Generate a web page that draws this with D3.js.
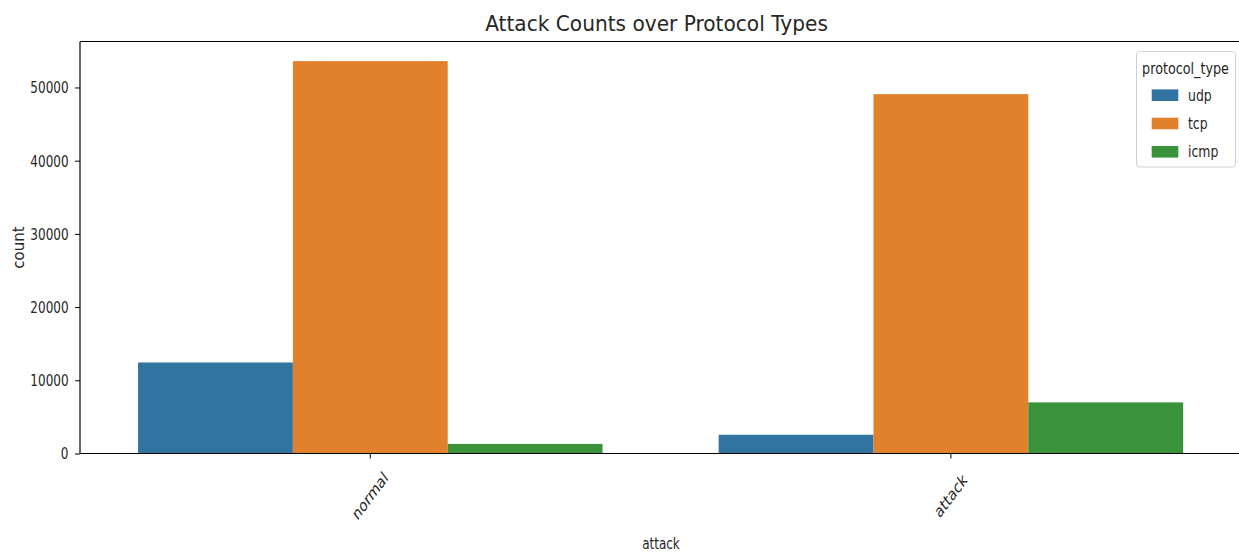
<!DOCTYPE html>
<html>
<head>
<meta charset="utf-8">
<script src="https://cdn.jsdelivr.net/npm/d3@7"></script>
<style>
  html, body { margin: 0; padding: 0; background: #ffffff; }
  svg { display: block; }
  text { font-family: "DejaVu Sans", sans-serif; fill: #262626; }
</style>
</head>
<body>
<svg id="chart" width="1239" height="552"></svg>
<script>
// ---- data ----
const categories = ["normal", "attack"];
const protocols = ["udp", "tcp", "icmp"];
const udpCounts = [12434, 2559];
const tcpCounts = [53600, 49089];
const icmpCounts = [1309, 6982];
const yTickValues = [0, 10000, 20000, 30000, 40000, 50000];
const colors = ["#3274a1", "#e1812c", "#3a923a"];
const chartTitle = "Attack Counts over Protocol Types";
const xTitle = "attack";
const yTitle = "count";
const legendTitle = "protocol_type";

const seriesValues = { udp: udpCounts, tcp: tcpCounts, icmp: icmpCounts };
const rows = [];
categories.forEach((c, i) => protocols.forEach(p => rows.push({ cat: c, proto: p, value: seriesValues[p][i] })));

// ---- layout ----
const W = 1239, H = 552;
const plot = { left: 80, right: 80 + 2 * 580.6, top: 41.5, bottom: 453.5 };
const SX = 0.75; // horizontal text squeeze seen in the reference

const svg = d3.select("#chart");

const x0 = d3.scaleBand().domain(categories).range([plot.left, plot.right]).paddingInner(0.2).paddingOuter(0.1);
const x1 = d3.scaleBand().domain(protocols).range([0, x0.bandwidth()]).padding(0);
const yMax = d3.max(rows, d => d.value) * 1.05;
const y = d3.scaleLinear().domain([0, yMax]).range([plot.bottom, plot.top]);
const color = d3.scaleOrdinal().domain(protocols).range(colors);

function label(g, x, yy, s, o) {
  const t = g.append("text")
    .attr("transform", `translate(${x},${yy}) scale(${o.sx ?? 1},1) rotate(${o.rotate ?? 0})`)
    .attr("font-size", o.size + "px")
    .attr("text-anchor", o.anchor ?? "middle")
    .text(s);
  if (o.baseline) t.attr("dominant-baseline", o.baseline);
  if (o.dy) t.attr("dy", o.dy);
  return t;
}

// ---- bars ----
svg.append("g").selectAll("rect").data(rows).join("rect")
  .attr("x", d => x0(d.cat) + x1(d.proto))
  .attr("width", x1.bandwidth())
  .attr("y", d => y(d.value))
  .attr("height", d => y(0) - y(d.value))
  .attr("fill", d => color(d.proto));

// ---- axes ----
const yAxis = svg.append("g").attr("transform", `translate(${plot.left},0)`)
  .call(d3.axisLeft(y).tickValues(yTickValues).tickSize(5).tickSizeOuter(0).tickFormat(d3.format("d")));
yAxis.select(".domain").remove();
yAxis.selectAll(".tick line").attr("stroke", "#000").attr("stroke-width", 1);
yAxis.selectAll(".tick text")
  .attr("font-family", "DejaVu Sans")
  .attr("font-size", "16px")
  .attr("fill", "#262626")
  .attr("x", -11.5 / SX)
  .attr("dy", "0.34em")
  .attr("transform", `scale(${SX},1)`);

const xAxis = svg.append("g").attr("transform", `translate(0,${plot.bottom})`)
  .call(d3.axisBottom(x0).tickSize(5).tickSizeOuter(0).tickFormat(""));
xAxis.select(".domain").remove();
xAxis.selectAll(".tick line").attr("stroke", "#000").attr("stroke-width", 1);
xAxis.selectAll(".tick text").remove();

const xl = svg.append("g");
categories.forEach(c => {
  label(xl, x0(c) + x0.bandwidth() / 2, 496, c, { size: 17, sx: SX, rotate: -45, baseline: "central" });
});

// spines (right spine lies just outside the picture)
const sp = svg.append("g").attr("stroke", "#000").attr("stroke-width", 1.2).attr("fill", "none");
sp.append("line").attr("x1", plot.left).attr("x2", plot.left).attr("y1", plot.top).attr("y2", plot.bottom);
sp.append("line").attr("x1", plot.left).attr("x2", plot.right).attr("y1", plot.bottom).attr("y2", plot.bottom);
sp.append("line").attr("x1", plot.left).attr("x2", plot.right).attr("y1", plot.top).attr("y2", plot.top);
sp.append("line").attr("x1", plot.right).attr("x2", plot.right).attr("y1", plot.top).attr("y2", plot.bottom);

// ---- titles ----
const tg = svg.append("g");
label(tg, 656.5, 31, chartTitle, { size: 22, sx: 0.915 });
label(tg, 661, 549, xTitle, { size: 16, sx: SX });
label(tg, 24, (plot.top + plot.bottom) / 2, yTitle, { size: 15, rotate: -90 });

// ---- legend ----
const lg = svg.append("g");
lg.append("rect").attr("x", 1136.5).attr("y", 51.5).attr("width", 99).attr("height", 115.5)
  .attr("rx", 3).attr("fill", "#ffffff").attr("fill-opacity", 0.8).attr("stroke", "#d0d0d0").attr("stroke-width", 1);
label(lg, 1185.5, 69, legendTitle, { size: 15, sx: 0.85, baseline: "central" });
protocols.forEach((p, i) => {
  const cy = 95.2 + i * 28.3;
  lg.append("rect").attr("x", 1151.7).attr("y", cy - 5.8).attr("width", 26.6).attr("height", 11.6).attr("fill", color(p));
  label(lg, 1188, cy, p, { size: 15, sx: 0.83, anchor: "start", baseline: "central" });
});
</script>
</body>
</html>
